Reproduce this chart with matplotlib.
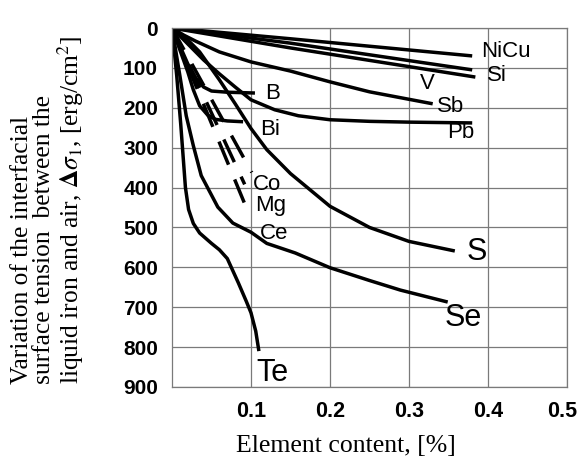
import matplotlib
matplotlib.use("Agg")
import matplotlib.pyplot as plt
from matplotlib.transforms import ScaledTranslation

# surface tension drop (erg/cm2) vs element content (%), one curve per element
nicu_x = [0, 0.15, 0.38]
nicu_y = [0, 27, 70]
si_x = [0, 0.15, 0.38]
si_y = [0, 38, 105]
v_x = [0, 0.15, 0.384]
v_y = [0, 50, 123]
sb_x = [0, 0.015, 0.03, 0.06, 0.1, 0.15, 0.2, 0.25, 0.33]
sb_y = [0, 18, 33, 60, 85, 108, 135, 160, 190]
pb_x = [0, 0.02, 0.04, 0.06, 0.08, 0.1, 0.13, 0.16, 0.2, 0.25, 0.3, 0.38]
pb_y = [0, 40, 80, 115, 148, 180, 205, 220, 230, 234, 236, 238]
b_x = [0, 0.01, 0.02, 0.03, 0.04, 0.05, 0.07, 0.105]
b_y = [0, 45, 90, 125, 148, 158, 161, 163]
bi_x = [0, 0.01, 0.02, 0.027, 0.035, 0.045, 0.055, 0.07, 0.09]
bi_y = [0, 55, 110, 155, 195, 218, 229, 233, 235]
co_x = [0, 0.101]
co_y = [0, 362]
mg_x = [0, 0.092]
mg_y = [0, 392]
ce_x = [0, 0.099]
ce_y = [0, 474]
s_x = [0, 0.02, 0.035, 0.06, 0.08, 0.1, 0.12, 0.15, 0.2, 0.25, 0.3, 0.358]
s_y = [0, 30, 60, 130, 190, 252, 305, 365, 447, 500, 535, 559]
se_x = [0, 0.005, 0.01, 0.018, 0.027, 0.037, 0.058, 0.077, 0.1, 0.12,
        0.156, 0.2, 0.25, 0.289, 0.349]
se_y = [0, 60, 120, 220, 295, 370, 449, 489, 512, 540, 564, 601, 633, 657, 687]
te_x = [0, 0.006, 0.011, 0.014, 0.017, 0.021, 0.027, 0.035, 0.05, 0.06,
        0.07, 0.084, 0.094, 0.1, 0.106, 0.11]
te_y = [0, 120, 240, 320, 400, 455, 490, 514, 540, 556, 578, 639, 685, 714,
        760, 810]

x_ticks = [0.1, 0.2, 0.3, 0.4, 0.5]
y_ticks = [0, 100, 200, 300, 400, 500, 600, 700, 800, 900]

plt.rcParams["mathtext.fontset"] = "stix"

fig = plt.figure(figsize=(5.78, 4.58), dpi=100)
ax = fig.add_axes([172 / 578, 1 - 387 / 458, 395 / 578, 359 / 458])

lw = 2.5
solid = [(nicu_x, nicu_y), (si_x, si_y), (v_x, v_y), (sb_x, sb_y),
         (pb_x, pb_y), (b_x, b_y), (bi_x, bi_y), (s_x, s_y),
         (se_x, se_y), (te_x, te_y)]
for xs, ys in solid:
    ax.plot(xs, ys, color="black", lw=lw, solid_capstyle="butt",
            solid_joinstyle="round")
for xs, ys in [(co_x, co_y), (mg_x, mg_y), (ce_x, ce_y)]:
    ax.plot(xs, ys, color="black", lw=lw, linestyle=(0, (7.2, 4.6)),
            dash_capstyle="butt")

# element names next to the curve ends
sans = ["Liberation Sans", "DejaVu Sans"]
small = 16
big = 22
labels = [
    ("NiCu", 0.391, 58, small), ("Si", 0.399, 118, small),
    ("V", 0.314, 140, small), ("Sb", 0.335, 198, small),
    ("Pb", 0.348, 263, small), ("B", 0.118, 163, small),
    ("Bi", 0.112, 255, small), ("Co", 0.102, 393, small),
    ("Mg", 0.105, 445, small), ("Ce", 0.111, 514, small),
    ("S", 0.373, 561, big), ("Se", 0.345, 727, big), ("Te", 0.107, 865, big),
]
for name, lx, ly, fs in labels:
    ax.text(lx, ly, name, fontsize=fs, family=sans, ha="left", va="center")

ax.set_xlim(0, 0.5)
ax.set_ylim(900, 0)
ax.set_xticks(x_ticks)
ax.set_yticks(y_ticks)
ax.set_xticklabels(["%.1f" % t for t in x_ticks], family=sans, fontsize=15.5,
                   fontweight="bold")
ax.set_yticklabels([str(t) for t in y_ticks], family=sans, fontsize=15,
                   fontweight="bold")
ax.tick_params(length=0, pad=10)
# keep the last x label inside the figure
last = ax.get_xticklabels()[-1]
last.set_transform(last.get_transform() +
                   ScaledTranslation(-5 / 100, 0, fig.dpi_scale_trans))
ax.grid(True, color="#7a7a7a", lw=0.9)
ax.set_axisbelow(True)
for sp in ax.spines.values():
    sp.set_color("#7a7a7a")
    sp.set_linewidth(0.9)

serif = ["Liberation Serif", "DejaVu Serif"]
fig.text(346 / 578, 1 - 446 / 458, "Element content, [%]", family=serif,
         fontsize=18.5, ha="center", va="center")
fig.text(11 / 578, 1 - 384 / 458,
         "Variation of the interfacial\n"
         "surface tension  between the\n"
         "liquid iron and air, $\\mathbf{\\Delta}\\sigma_1$, [erg/cm$^2$]",
         family=serif, fontsize=18.4, rotation=90, ha="left", va="bottom",
         multialignment="left", linespacing=1.0)

fig.savefig("out.png", dpi=100)
